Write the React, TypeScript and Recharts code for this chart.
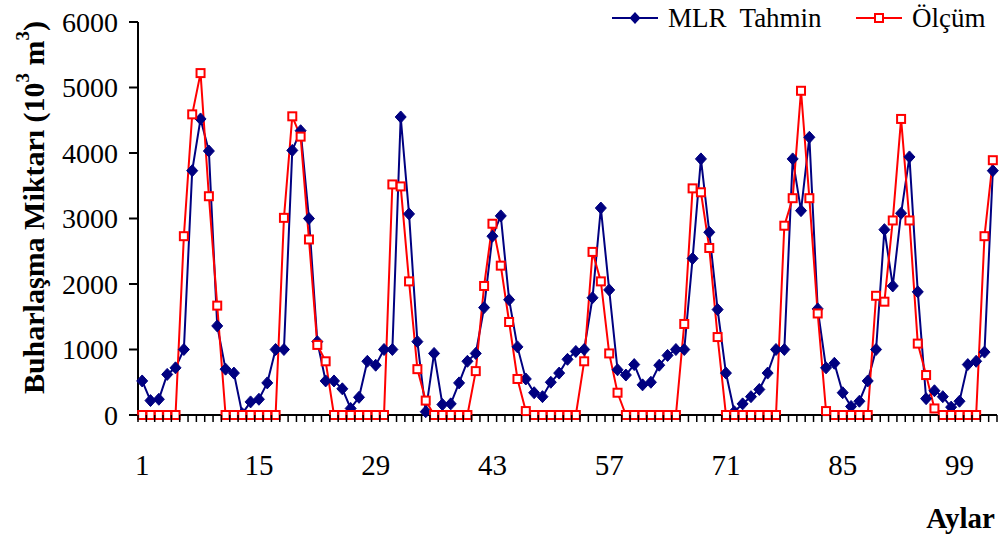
import React from 'react';
import { LineChart, Line, XAxis, YAxis } from 'recharts';

// Aylık buharlaşma: MLR tahmini ve ölçüm (10^3 m^3)
const aylar = Array.from({ length: 103 }, (_, i) => i + 1);

const mlrTahmin = [
  520, 220, 240, 620, 720, 1000, 3730, 4520, 4030, 1360,
  700, 640, 20, 200, 240, 490, 1000, 1000, 4040, 4340,
  3000, 1120, 520, 520, 400, 100, 270, 820, 760, 1000,
  1000, 4550, 3070, 1120, 50, 940, 160, 170, 490, 820,
  940, 1640, 2730, 3040, 1760, 1040, 550, 340, 280, 500,
  640, 850, 970, 1000, 1790, 3160, 1910, 690, 610, 770,
  460, 500, 760, 910, 1000, 1000, 2390, 3910, 2790, 1610,
  640, 50, 170, 280, 390, 640, 1000, 1000, 3910, 3120,
  4240, 1620, 720, 790, 340, 130, 210, 520, 1000, 2830,
  1970, 3080, 3940, 1880, 250, 370, 280, 120, 210, 770,
  820, 960, 3730,
];

const olcum = [
  0, 0, 0, 0, 0, 2730, 4590, 5220, 3340, 1670,
  0, 0, 0, 0, 0, 0, 0, 3010, 4560, 4250,
  2680, 1070, 820, 0, 0, 0, 0, 0, 0, 0,
  3520, 3490, 2040, 700, 220, 0, 0, 0, 0, 0,
  670, 1970, 2920, 2280, 1420, 550, 60, 0, 0, 0,
  0, 0, 0, 820, 2490, 2040, 940, 340, 0, 0,
  0, 0, 0, 0, 0, 1390, 3460, 3400, 2550, 1190,
  0, 0, 0, 0, 0, 0, 0, 2890, 3310, 4950,
  3310, 1550, 60, 0, 0, 0, 0, 0, 1820, 1730,
  2970, 4520, 2970, 1090, 610, 100, 0, 0, 0, 0,
  0, 2730, 3890,
];

const yTicks = [0, 1000, 2000, 3000, 4000, 5000, 6000];

const data = aylar.map((ay, i) => ({ ay, mlr: mlrTahmin[i], olcum: olcum[i] }));

const FONT = "'Liberation Serif', 'Times New Roman', serif";
const NAVY = '#000080';
const RED = '#FF0000';

const CHART_W = 1000;
const CHART_H = 538;
const MARGIN = { top: 22, right: 3, bottom: 0, left: 0 };
const Y_AXIS_W = 138;
const X_AXIS_H = 123;
const BAND = (CHART_W - MARGIN.left - MARGIN.right - Y_AXIS_W) / aylar.length;

const serif = { fontFamily: FONT };

// Excel tarzı: her kategori sınırında kısa çentik, her 14 ayda bir etiket
function AyTick(props: any) {
  const { x, y, payload } = props;
  const last = payload.value === aylar[aylar.length - 1];
  const showLabel = (payload.value - 1) % 14 === 0;
  return (
    <g>
      <line x1={x - BAND / 2} x2={x - BAND / 2} y1={y} y2={y + 7} stroke="#000" strokeWidth={1.5} />
      {last && (
        <line x1={x + BAND / 2} x2={x + BAND / 2} y1={y} y2={y + 7} stroke="#000" strokeWidth={1.5} />
      )}
      {showLabel && (
        <text x={x} y={y + 60} textAnchor="middle" style={serif} fontSize={29} fill="#000">
          {payload.value}
        </text>
      )}
    </g>
  );
}

function YTick(props: any) {
  const { x, y, payload } = props;
  return (
    <text x={x + 1} y={y + 9.5} textAnchor="end" style={serif} fontSize={28} fill="#000">
      {payload.value}
    </text>
  );
}

function AylarLabel(props: any) {
  const { viewBox } = props;
  return (
    <text
      x={viewBox.x + viewBox.width - 2}
      y={viewBox.y + 113}
      textAnchor="end"
      style={serif}
      fontSize={29}
      fontWeight="bold"
      fill="#000"
    >
      Aylar
    </text>
  );
}

function MiktarLabel(props: any) {
  const { viewBox } = props;
  const cx = viewBox.x + 33;
  const cy = viewBox.y + viewBox.height / 2 - 11;
  return (
    <text
      x={cx}
      y={cy}
      transform={`rotate(-90, ${cx}, ${cy})`}
      textAnchor="middle"
      dominantBaseline="central"
      style={serif}
      fontSize={30}
      fontWeight="bold"
      fill="#000"
    >
      Buharlaşma Miktarı (10
      <tspan fontSize={19} dy={-11}>3</tspan>
      <tspan dy={11}> m</tspan>
      <tspan fontSize={19} dy={-11}>3</tspan>
      <tspan dy={11}>)</tspan>
    </text>
  );
}

function Diamond(props: any) {
  const { cx, cy, index } = props;
  if (cx == null || cy == null) return <g key={`d-${index}`} />;
  return (
    <path
      key={`d-${index}`}
      d={`M${cx},${cy - 6} L${cx + 5.5},${cy} L${cx},${cy + 6} L${cx - 5.5},${cy} Z`}
      fill={NAVY}
      stroke={NAVY}
    />
  );
}

function Square(props: any) {
  const { cx, cy, index } = props;
  if (cx == null || cy == null) return <g key={`s-${index}`} />;
  return (
    <rect key={`s-${index}`} x={cx - 4} y={cy - 4} width={8} height={8} fill="#fff" stroke={RED} strokeWidth={2} />
  );
}

function LegendItem({ left, width, color, marker, label }: any) {
  return (
    <div style={{ position: 'absolute', left, top: 0, display: 'flex', alignItems: 'center', height: 36 }}>
      <svg width={width} height={36}>
        <line x1={0} x2={width} y1={18} y2={18} stroke={color} strokeWidth={2} />
        {marker === 'diamond' ? (
          <path d={`M${width / 2},12 L${width / 2 + 5.5},18 L${width / 2},24 L${width / 2 - 5.5},18 Z`} fill={color} />
        ) : (
          <rect x={width / 2 - 4} y={14} width={8} height={8} fill="#fff" stroke={color} strokeWidth={2} />
        )}
      </svg>
      <span style={{ marginLeft: 10, fontFamily: FONT, fontSize: 27, whiteSpace: 'pre', color: '#000' }}>{label}</span>
    </div>
  );
}

export default function App() {
  return (
    <div style={{ position: 'relative', width: CHART_W, height: CHART_H, background: '#fff', fontFamily: FONT }}>
      <style>{'body{margin:0;}'}</style>
      <LineChart width={CHART_W} height={CHART_H} data={data} margin={MARGIN} style={serif}>
        <XAxis
          dataKey="ay"
          scale="band"
          interval={0}
          height={X_AXIS_H}
          tickSize={0}
          tickMargin={0}
          tickLine={false}
          tick={<AyTick />}
          axisLine={{ stroke: '#000', strokeWidth: 2 }}
          label={<AylarLabel />}
        />
        <YAxis
          domain={[0, 6000]}
          ticks={yTicks}
          width={Y_AXIS_W}
          tickSize={9}
          tickMargin={12}
          tick={<YTick />}
          axisLine={{ stroke: '#000', strokeWidth: 2 }}
          tickLine={{ stroke: '#000', strokeWidth: 2 }}
          label={<MiktarLabel />}
        />
        <Line
          dataKey="mlr"
          name="MLR  Tahmin"
          stroke={NAVY}
          strokeWidth={2}
          dot={Diamond}
          activeDot={false}
          isAnimationActive={false}
        />
        <Line
          dataKey="olcum"
          name="Ölçüm"
          stroke={RED}
          strokeWidth={2}
          dot={Square}
          activeDot={false}
          isAnimationActive={false}
        />
      </LineChart>
      <LegendItem left={612} width={46} color={NAVY} marker="diamond" label="MLR  Tahmin" />
      <LegendItem left={856} width={46} color={RED} marker="square" label="Ölçüm" />
    </div>
  );
}
